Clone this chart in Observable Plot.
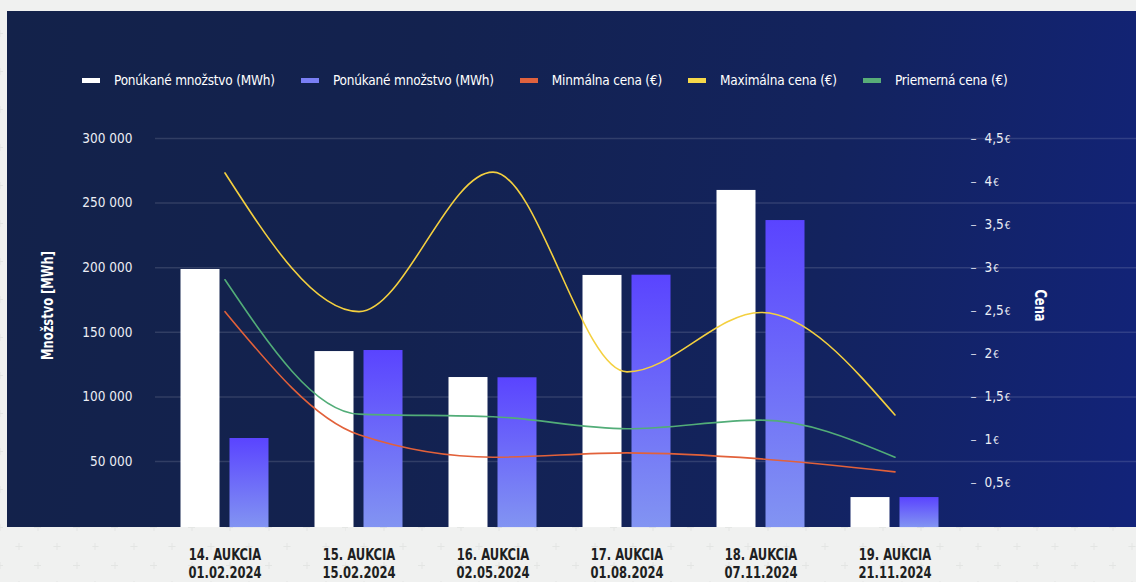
<!DOCTYPE html>
<html>
<head>
<meta charset="utf-8">
<script src="https://cdn.jsdelivr.net/npm/d3@7"></script>
<script src="https://cdn.jsdelivr.net/npm/@observablehq/plot@0.6"></script>
<style>
  html, body { margin: 0; padding: 0; }
  body { width: 1136px; height: 582px; overflow: hidden; background: #f0f1f0; }
  #wrap { position: relative; width: 1136px; height: 582px;
    background-color: #f0f1f0;
    background-image: url("data:image/svg+xml,%3Csvg xmlns='http://www.w3.org/2000/svg' width='38.4' height='38'%3E%3Cg stroke='%23e3e5e3' stroke-width='1'%3E%3Cpath d='M15.2 14.5h7M18.7 11v7M-4 33.5h7M0 30v7M34.4 33.5h7M38.4 30v7'/%3E%3C/g%3E%3C/svg%3E");
  }
  #panel { position: absolute; left: 7px; top: 11px; width: 1129px; height: 516px;
    background: linear-gradient(100deg, #13224a 0%, #13224f 35%, #13235e 70%, #12237a 100%); }
  #legend { position: absolute; left: 82px; top: 71px; display: flex; align-items: center;
    font-family: "DejaVu Sans Condensed", "DejaVu Sans", sans-serif; font-stretch: condensed;
    font-size: 13.5px; letter-spacing: -0.2px; color: #ffffff; white-space: nowrap; }
  .item { display: flex; align-items: center; margin-right: 26px; height: 18px; }
  .sw { width: 18px; height: 5px; margin-right: 14px; }
  #chart { position: absolute; left: 0; top: 100px; }
</style>
</head>
<body>
<div id="wrap">
  <div id="panel"></div>
  <div id="legend"></div>
  <div id="chart"></div>
</div>
<script>
// ---- data ----
const categories = ["14. AUKCIA\n01.02.2024", "15. AUKCIA\n15.02.2024", "16. AUKCIA\n02.05.2024",
                    "17. AUKCIA\n01.08.2024", "18. AUKCIA\n07.11.2024", "19. AUKCIA\n21.11.2024"];
const offeredWhite = [198600, 135100, 115000, 194000, 259800, 22100];
const offeredBlue  = [67800, 135900, 114800, 194200, 236500, 22100];
const minPrice = [2.49, 1.06, 0.80, 0.85, 0.78, 0.63];
const maxPrice = [4.10, 2.49, 4.11, 1.79, 2.48, 1.29];
const avgPrice = [2.86, 1.30, 1.27, 1.13, 1.23, 0.80];
const quantityTicks = [50000, 100000, 150000, 200000, 250000, 300000];
const priceTicks = [0.5, 1, 1.5, 2, 2.5, 3, 3.5, 4, 4.5];
const seriesNames = ["Ponúkané množstvo (MWh)", "Ponúkané množstvo (MWh)", "Minmálna cena (€)", "Maximálna cena (€)", "Priemerná cena (€)"];
const seriesColors = ["#ffffff", "#7a7ff5", "#e0623e", "#f6d84a", "#58ad78"];

// price axis (0–4.5 €) shares the quantity axis (0–300 000 MWh)
const K = 300000 / 4.5;

// ---- legend ----
const legend = document.getElementById("legend");
seriesNames.forEach((name, i) => {
  const it = document.createElement("div"); it.className = "item";
  const sw = document.createElement("div"); sw.className = "sw"; sw.style.background = seriesColors[i];
  const tx = document.createElement("span"); tx.textContent = name;
  it.appendChild(sw); it.appendChild(tx); legend.appendChild(it);
});

const fmtQ = d => d3.format(",")(d).replace(/,/g, " ");
const fmtP = d => String(d).replace(".", ",") + "€";
const idx = d3.range(categories.length);
const boldFont = "'Liberation Sans Narrow', 'DejaVu Sans Condensed', sans-serif";

const chart = Plot.plot({
  width: 1136,
  height: 482,
  marginLeft: 155,
  marginRight: 0,
  marginTop: 38,
  marginBottom: 56.4,
  style: { background: "transparent", color: "#eceef5", fontFamily: "'DejaVu Sans Condensed', 'DejaVu Sans', sans-serif", fontSize: "13.5px", overflow: "visible" },
  x: { type: "band", domain: categories, range: [156, 962], paddingInner: 0.7096, paddingOuter: 0.3548, axis: null },
  y: { domain: [0, 300000], axis: null },
  marks: [
    Plot.ruleY(quantityTicks, { stroke: "#ffffff", strokeOpacity: 0.13, strokeWidth: 1.5 }),
    Plot.axisY({ ticks: quantityTicks, tickSize: 0, tickPadding: 23, tickFormat: fmtQ, label: null, fill: "#eceef5" }),
    Plot.barY(idx, { x: i => categories[i], y: i => offeredWhite[i], fill: "#ffffff", dx: -24.5, insetBottom: -1.5 }),
    Plot.barY(idx, { x: i => categories[i], y: i => offeredBlue[i], fill: "url(#blueGrad)", dx: 24.5, insetBottom: -1.5 }),
    Plot.lineY(idx, { x: i => categories[i], y: i => maxPrice[i] * K, curve: "monotone-x", stroke: "#f4d03f", strokeWidth: 1.6 }),
    Plot.lineY(idx, { x: i => categories[i], y: i => avgPrice[i] * K, curve: "monotone-x", stroke: "#52ad78", strokeWidth: 1.6 }),
    Plot.lineY(idx, { x: i => categories[i], y: i => minPrice[i] * K, curve: "monotone-x", stroke: "#e2613a", strokeWidth: 1.6 }),
    // right price axis
    Plot.text(priceTicks, { y: d => d * K, text: () => "–", frameAnchor: "right", textAnchor: "middle", dx: 973 - 1136, fill: "#c9cde0" }),
    Plot.text(priceTicks, { y: d => d * K, text: fmtP, frameAnchor: "right", textAnchor: "start", dx: 984 - 1136, fill: "#eceef5", className: "price-ticks" }),
    // axis titles
    Plot.text(["Množstvo [MWh]"], { frameAnchor: "left", textAnchor: "middle", rotate: -90, dx: 47.5 - 155, dy: -26.8, fill: "#ffffff",
      fontFamily: boldFont, fontWeight: "bold", fontSize: 16, className: "squeeze-title" }),
    Plot.text(["Cena"], { frameAnchor: "right", textAnchor: "middle", rotate: 90, dx: 1040 - 1136, dy: -26.8, fill: "#ffffff",
      fontFamily: boldFont, fontWeight: "bold", fontSize: 16, className: "squeeze-title" }),
    // category labels
    Plot.text(categories, { x: d => d, text: d => d, frameAnchor: "bottom", lineAnchor: "top", dy: 21, lineHeight: 1.17,
      fill: "#1e1f22", fontFamily: boldFont, fontWeight: "bold", fontSize: 15.5, className: "squeeze-cat" })
  ]
});

const svgRoot = chart.tagName.toLowerCase() === "svg" ? chart : chart.querySelector("svg");

// gradient definition for the blue bars
d3.select(svgRoot).insert("defs", ":first-child").html(
  '<linearGradient id="blueGrad" x1="0" y1="0" x2="0" y2="1">' +
  '<stop offset="0" stop-color="#5a44ff"/><stop offset="1" stop-color="#8294f2"/></linearGradient>');

// smaller euro sign in the price tick labels
d3.select(svgRoot).selectAll(".price-ticks text").each(function () {
  const t = this.textContent;
  if (!t.endsWith("€")) return;
  this.textContent = t.slice(0, -1);
  const ts = document.createElementNS("http://www.w3.org/2000/svg", "tspan");
  ts.setAttribute("font-size", "10");
  ts.setAttribute("dx", "1");
  ts.textContent = "€";
  this.appendChild(ts);
});

// condensed look for the heavy labels (narrow font is not installed)
function squeeze(sel, k) {
  d3.select(svgRoot).selectAll(sel + " text").each(function () {
    const tr = this.getAttribute("transform") || "";
    const x = +(this.getAttribute("x") || 0);
    this.setAttribute("transform", `${tr} translate(${x},0) scale(${k},1) translate(${-x},0)`);
  });
}
squeeze(".squeeze-cat", 0.83);
squeeze(".squeeze-title", 0.8);

document.getElementById("chart").appendChild(chart);
</script>
</body>
</html>
